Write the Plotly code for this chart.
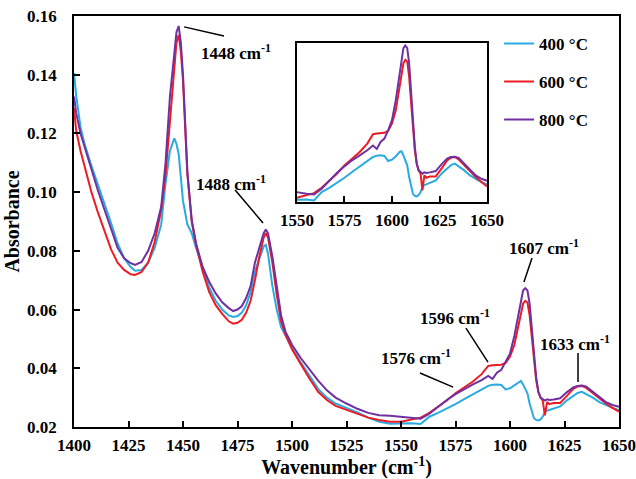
import plotly.graph_objects as go

# ---------------- data ----------------
wavenumber = [1400, 1401, 1403, 1405, 1408, 1411, 1414, 1417, 1420, 1423, 1426, 1428, 1431, 1434, 1437,
              1440, 1442, 1444, 1446, 1447, 1448, 1449, 1450, 1452, 1454, 1456, 1459, 1462, 1465, 1468,
              1471, 1473, 1475, 1477, 1479, 1481, 1483, 1485, 1487, 1488, 1489, 1491, 1493, 1495, 1497,
              1500, 1504, 1508, 1512, 1516, 1520, 1525, 1530, 1535, 1540, 1545, 1550, 1555, 1559, 1563,
              1567, 1571, 1575, 1579, 1583, 1587, 1590, 1592, 1594, 1596, 1598, 1600, 1602, 1604, 1605,
              1606, 1607, 1608, 1609, 1610, 1611, 1612, 1613, 1614, 1615, 1616, 1617, 1618, 1620, 1623,
              1626, 1629, 1631, 1633, 1635, 1638, 1641, 1644, 1647, 1650]

abs_400 = [0.1406, 0.133, 0.122, 0.116, 0.109, 0.1025, 0.0965, 0.0895, 0.0825, 0.0775, 0.0745, 0.0732, 0.0735, 0.0760, 0.0810,
           0.0890, 0.1030, 0.1140, 0.1183, 0.1165, 0.1130, 0.1050, 0.0970, 0.0890, 0.0860, 0.0810, 0.0740, 0.0675, 0.0630, 0.0600,
           0.0580, 0.0575, 0.0578, 0.0590, 0.0615, 0.0660, 0.0730, 0.0770, 0.0815, 0.0820, 0.0790, 0.0680, 0.0600, 0.0540, 0.0510,
           0.0470, 0.0420, 0.0375, 0.0330, 0.0300, 0.0280, 0.0265, 0.0250, 0.0232, 0.0218, 0.0211, 0.0211, 0.0213, 0.0210, 0.0235,
           0.0248, 0.0262, 0.0278, 0.0295, 0.0312, 0.0328, 0.0340, 0.0344, 0.0345, 0.0343, 0.0328, 0.0332, 0.0342, 0.0355, 0.0357,
           0.0345, 0.0330, 0.0315, 0.0280, 0.0250, 0.0230, 0.0224, 0.0222, 0.0226, 0.0235, 0.0250, 0.0256, 0.0258, 0.0262, 0.0270,
           0.0290, 0.0305, 0.0316, 0.0320, 0.0312, 0.0300, 0.0285, 0.0275, 0.0265, 0.0258]

abs_600 = [0.1286, 0.121, 0.114, 0.108, 0.100, 0.093, 0.087, 0.0805, 0.0760, 0.0735, 0.0720, 0.0718, 0.0728, 0.0760, 0.0830,
           0.0940, 0.1060, 0.1240, 0.1430, 0.1510, 0.1535, 0.1480, 0.1380, 0.1060, 0.0900, 0.0820, 0.0730, 0.0660, 0.0615, 0.0585,
           0.0560, 0.0552, 0.0555, 0.0565, 0.0590, 0.0630, 0.0700, 0.0780, 0.0845, 0.0860, 0.0845, 0.0760, 0.0650, 0.0560, 0.0515,
           0.0465, 0.0415, 0.0365, 0.0320, 0.0292, 0.0272, 0.0258, 0.0245, 0.0232, 0.0224, 0.0218, 0.0218, 0.0226, 0.0232, 0.0248,
           0.0268, 0.0290, 0.0315, 0.0335, 0.0355, 0.0380, 0.0408, 0.0410, 0.0410, 0.0412, 0.0418, 0.0440, 0.0480, 0.0550, 0.0590,
           0.0620, 0.0630, 0.0625, 0.0580, 0.0500, 0.0420, 0.0360, 0.0320, 0.0300, 0.0290, 0.0240, 0.0285, 0.0278, 0.0282, 0.0282,
           0.0305, 0.0330, 0.0338, 0.0340, 0.0333, 0.0315, 0.0298, 0.0280, 0.0265, 0.0252]

abs_800 = [0.1326, 0.127, 0.120, 0.115, 0.108, 0.1005, 0.094, 0.0875, 0.0810, 0.0775, 0.0758, 0.0752, 0.0762, 0.0800, 0.0860,
           0.0950, 0.1100, 0.1325, 0.1490, 0.1545, 0.1566, 0.1510, 0.1400, 0.1070, 0.0905, 0.0825, 0.0745, 0.0695, 0.0655, 0.0625,
           0.0605, 0.0595, 0.0600, 0.0612, 0.0640, 0.0680, 0.0760, 0.0810, 0.0860, 0.0873, 0.0860, 0.0780, 0.0680, 0.0580, 0.0525,
           0.0480, 0.0435, 0.0395, 0.0358, 0.0325, 0.0300, 0.0280, 0.0262, 0.0248, 0.0240, 0.0238, 0.0235, 0.0230, 0.0228, 0.0245,
           0.0270, 0.0292, 0.0312, 0.0330, 0.0345, 0.0360, 0.0374, 0.0364, 0.0385, 0.0395, 0.0420, 0.0450, 0.0510, 0.0590, 0.0635,
           0.0665, 0.0673, 0.0665, 0.0620, 0.0530, 0.0440, 0.0370, 0.0320, 0.0300, 0.0295, 0.0290, 0.0294, 0.0292, 0.0294, 0.0298,
           0.0318, 0.0335, 0.0340, 0.0341, 0.0337, 0.0320, 0.0305, 0.0285, 0.0275, 0.0269]

series_names = ["400 °C", "600 °C", "800 °C"]
series_colors = ["#29ABE2", "#ED1C24", "#7030A0"]
series_values = [abs_400, abs_600, abs_800]

# peak labels: text, text position, line start, line end (data coordinates)
peak_labels = ["1448 cm<sup>-1</sup>", "1488 cm<sup>-1</sup>", "1607 cm<sup>-1</sup>",
               "1596 cm<sup>-1</sup>", "1576 cm<sup>-1</sup>", "1633 cm<sup>-1</sup>"]
label_pos = [(1474.3, 0.1477), (1472.2, 0.1031), (1615.6, 0.0813),
             (1574.8, 0.0575), (1556.9, 0.0438), (1629.6, 0.0486)]
line_from = [(1450.5, 0.1563), (1473.9, 0.1007), (1610.1, 0.0776),
             (1579.8, 0.0537), (1558.7, 0.0384), (1631.2, 0.0452)]
line_to = [(1468.8, 0.1532), (1486.7, 0.0895), (1606.4, 0.0694),
           (1589.9, 0.0421), (1573.9, 0.0336), (1631.2, 0.0353)]

FONT = "Liberation Serif"
FSIZE = 17

fig = go.Figure()
for name, color, vals in zip(series_names, series_colors, series_values):
    fig.add_trace(go.Scatter(x=wavenumber, y=vals, mode="lines", name=name,
                             legendgroup=name,
                             line=dict(color=color, width=2)))
for name, color, vals in zip(series_names, series_colors, series_values):
    fig.add_trace(go.Scatter(x=wavenumber, y=vals, mode="lines", name=name,
                             showlegend=False, xaxis="x2", yaxis="y2",
                             line=dict(color=color, width=2)))

axis_common = dict(showline=True, mirror=True, linecolor="black", linewidth=1.5,
                   ticks="inside", ticklen=6, tickwidth=1.5, tickcolor="black",
                   showgrid=False, zeroline=False, automargin=False)

fig.update_layout(
    width=636, height=479,
    margin=dict(l=74, r=17, t=16, b=52),
    paper_bgcolor="white", plot_bgcolor="white",
    font=dict(family=FONT, size=FSIZE, color="black", weight="bold"),
    xaxis=dict(range=[1400, 1650], dtick=25, tick0=1400, ticklabelstandoff=2,
               title=dict(text="Wavenumber (cm<sup>-1</sup>)", standoff=4), **axis_common),
    yaxis=dict(range=[0.02, 0.16], dtick=0.02, tick0=0.02, tickformat=".2f",
               ticklabelstandoff=12,
               title=dict(text="Absorbance", standoff=2), **axis_common),
    xaxis2=dict(domain=[0.409, 0.758], anchor="y2", range=[1550, 1650], dtick=25, tick0=1550,
                ticklabelstandoff=2, **axis_common),
    yaxis2=dict(domain=[0.547, 0.934], anchor="x2", range=[0.0205, 0.068],
                showticklabels=False, showline=True, mirror=True, linecolor="black",
                linewidth=1.5, ticks="", showgrid=False, zeroline=False, automargin=False),
    legend=dict(x=0.78, y=0.976, xanchor="left", yanchor="top", traceorder="grouped",
                tracegroupgap=13, bgcolor="rgba(0,0,0,0)", itemwidth=30,
                font=dict(family=FONT, size=FSIZE, color="black", weight="bold")),
    showlegend=True,
)

for txt, (tx, ty), (x0, y0), (x1, y1) in zip(peak_labels, label_pos, line_from, line_to):
    fig.add_annotation(x=tx, y=ty, xref="x", yref="y", text=txt, showarrow=False,
                       font=dict(family=FONT, size=FSIZE, color="black", weight="bold"))
    fig.add_shape(type="line", xref="x", yref="y", x0=x0, y0=y0, x1=x1, y1=y1,
                  line=dict(color="black", width=1.5))

fig.write_html("out.html", config={"displayModeBar": False},
               post_script="document.body.style.margin='0';")
